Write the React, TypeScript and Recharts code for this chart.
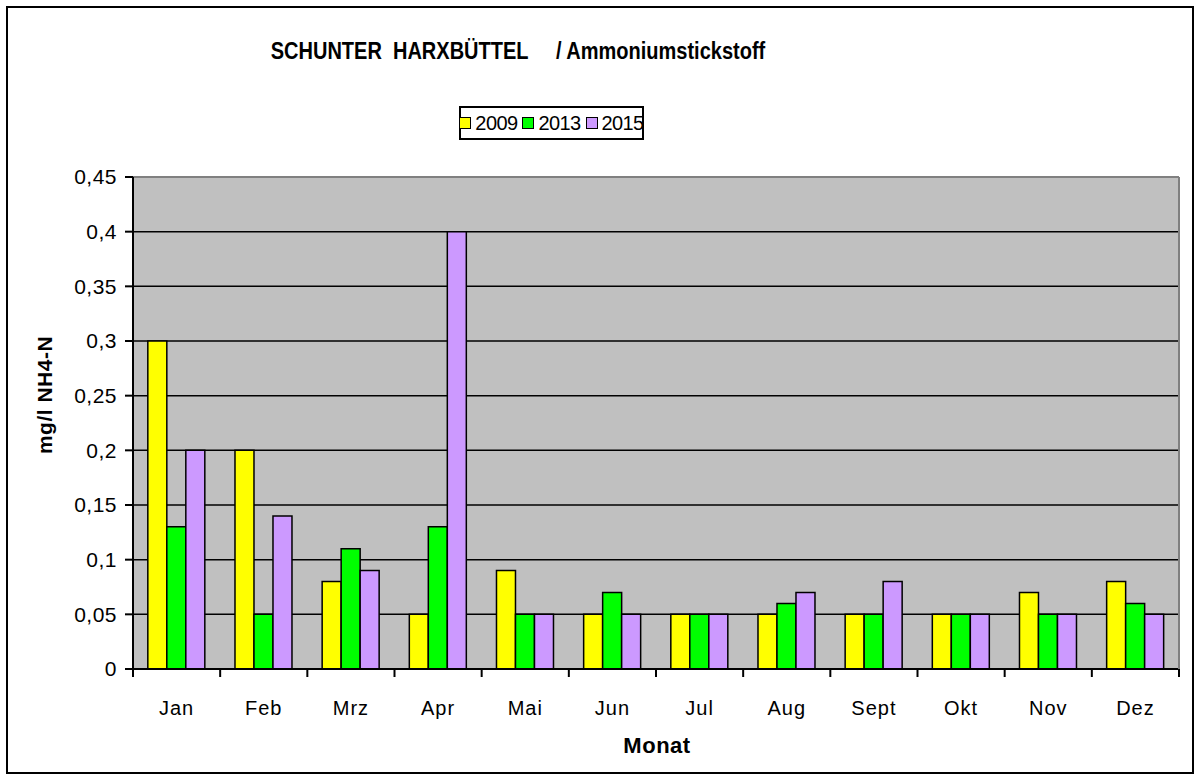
import React from "react";
import { BarChart, Bar, XAxis, YAxis, CartesianGrid, ReferenceLine } from "recharts";

const months = ["Jan", "Feb", "Mrz", "Apr", "Mai", "Jun", "Jul", "Aug", "Sept", "Okt", "Nov", "Dez"];
const values2009 = [0.3, 0.2, 0.08, 0.05, 0.09, 0.05, 0.05, 0.05, 0.05, 0.05, 0.07, 0.08];
const values2013 = [0.13, 0.05, 0.11, 0.13, 0.05, 0.07, 0.05, 0.06, 0.05, 0.05, 0.05, 0.06];
const values2015 = [0.2, 0.14, 0.09, 0.4, 0.05, 0.05, 0.05, 0.07, 0.08, 0.05, 0.05, 0.05];
const yTicks = [0, 0.05, 0.1, 0.15, 0.2, 0.25, 0.3, 0.35, 0.4, 0.45];

const seriesNames = ["2009", "2013", "2015"];
const seriesColors = ["#FFFF00", "#00FF00", "#CC99FF"];

const data = months.map((month, i) => ({
  month,
  y2009: values2009[i],
  y2013: values2013[i],
  y2015: values2015[i],
}));

// layout
const CHART_W = 1198;
const CHART_H = 780;
const PLOT_LEFT = 133;
const PLOT_RIGHT = 1179;
const PLOT_TOP = 177;
const PLOT_BOTTOM = 669;
const Y_AXIS_W = 80;
const X_AXIS_H = 60;
const HALF_BAND = (PLOT_RIGHT - PLOT_LEFT) / months.length / 2;

const FONT = "'Liberation Sans', Arial, sans-serif";

const formatComma = (v: number) => String(v).replace(".", ",");

function MonthTick(props: any) {
  const { x, y, payload, index } = props;
  return (
    <g>
      <line x1={x - HALF_BAND} x2={x - HALF_BAND} y1={y} y2={y + 8} stroke="#000" strokeWidth={2} />
      {index === months.length - 1 && (
        <line x1={x + HALF_BAND} x2={x + HALF_BAND} y1={y} y2={y + 8} stroke="#000" strokeWidth={2} />
      )}
      <text
        x={x}
        y={y + 46}
        textAnchor="middle"
        fill="#000"
        fontSize={20}
        fontFamily={FONT}
        letterSpacing={1}
      >
        {payload.value}
      </text>
    </g>
  );
}

export default function App() {
  return (
    <div style={{ position: "absolute", left: 0, top: 0, width: CHART_W, height: CHART_H, background: "#fff" }}>
      {/* outer frame */}
      <div
        style={{
          position: "absolute",
          left: 6,
          top: 6,
          width: 1184,
          height: 764,
          border: "2px solid #000",
        }}
      />

      <BarChart
        width={CHART_W}
        height={CHART_H}
        data={data}
        margin={{
          top: PLOT_TOP,
          right: CHART_W - PLOT_RIGHT - 1,
          left: PLOT_LEFT - Y_AXIS_W,
          bottom: CHART_H - PLOT_BOTTOM - X_AXIS_H,
        }}
        barCategoryGap="17%"
        barGap={0}
        style={{ position: "absolute", left: 0, top: 0 }}
      >
        <CartesianGrid yAxisId="left" vertical={false} stroke="#000" strokeWidth={1.5} fill="#C0C0C0" fillOpacity={1} />
        <XAxis
          dataKey="month"
          height={X_AXIS_H}
          axisLine={{ stroke: "#000", strokeWidth: 2 }}
          tickLine={false}
          tickSize={0}
          tickMargin={0}
          interval={0}
          tick={<MonthTick />}
        />
        <YAxis
          yAxisId="left"
          width={Y_AXIS_W}
          domain={[0, 0.45]}
          ticks={yTicks}
          interval={0}
          tickFormatter={formatComma}
          axisLine={{ stroke: "#000", strokeWidth: 2 }}
          tickLine={{ stroke: "#000", strokeWidth: 2 }}
          tickSize={8}
          tickMargin={8}
          tick={{ fill: "#000", fontSize: 21, fontFamily: FONT, letterSpacing: 0.5 }}
        />
        <YAxis
          yAxisId="right"
          orientation="right"
          width={1}
          domain={[0, 0.45]}
          tick={false}
          tickLine={false}
          axisLine={{ stroke: "#808080", strokeWidth: 2 }}
        />
        <ReferenceLine yAxisId="left" y={0.45} stroke="#808080" strokeWidth={2} />
        <Bar yAxisId="left" dataKey="y2009" name="2009" fill={seriesColors[0]} stroke="#000" strokeWidth={1.5} isAnimationActive={false} />
        <Bar yAxisId="left" dataKey="y2013" name="2013" fill={seriesColors[1]} stroke="#000" strokeWidth={1.5} isAnimationActive={false} />
        <Bar yAxisId="left" dataKey="y2015" name="2015" fill={seriesColors[2]} stroke="#000" strokeWidth={1.5} isAnimationActive={false} />
      </BarChart>

      {/* title */}
      <div
        style={{
          position: "absolute",
          left: 0,
          width: 1036,
          top: 40,
          textAlign: "center",
          fontFamily: FONT,
          fontWeight: "bold",
          fontSize: 20,
          whiteSpace: "pre",
          color: "#000",
          transform: "scaleY(1.15)",
        }}
      >
        {"SCHUNTER  HARXBÜTTEL     / Ammoniumstickstoff"}
      </div>

      {/* legend */}
      <div
        style={{
          position: "absolute",
          left: 459,
          top: 106,
          width: 185,
          height: 34,
          boxSizing: "border-box",
          border: "2px solid #000",
          display: "flex",
          alignItems: "center",
          justifyContent: "center",
          gap: 5,
          fontFamily: FONT,
          fontSize: 20,
          letterSpacing: -0.6,
          color: "#000",
        }}
      >
        {seriesNames.map((name, i) => (
          <span key={name} style={{ display: "flex", alignItems: "center", gap: 4 }}>
            <span
              style={{
                display: "inline-block",
                boxSizing: "border-box",
                width: 12,
                height: 12,
                background: seriesColors[i],
                border: "1.5px solid #000",
              }}
            />
            <span>{name}</span>
          </span>
        ))}
      </div>

      {/* y axis label */}
      <div
        style={{
          position: "absolute",
          left: 45,
          top: 395,
          transform: "translate(-50%, -50%) rotate(-90deg)",
          fontFamily: FONT,
          fontWeight: "bold",
          fontSize: 21,
          letterSpacing: 0.5,
          whiteSpace: "nowrap",
          color: "#000",
        }}
      >
        mg/l NH4-N
      </div>

      {/* x axis label */}
      <div
        style={{
          position: "absolute",
          left: 657,
          top: 746,
          transform: "translate(-50%, -50%)",
          fontFamily: FONT,
          fontWeight: "bold",
          fontSize: 22,
          letterSpacing: 0.5,
          color: "#000",
        }}
      >
        Monat
      </div>
    </div>
  );
}
